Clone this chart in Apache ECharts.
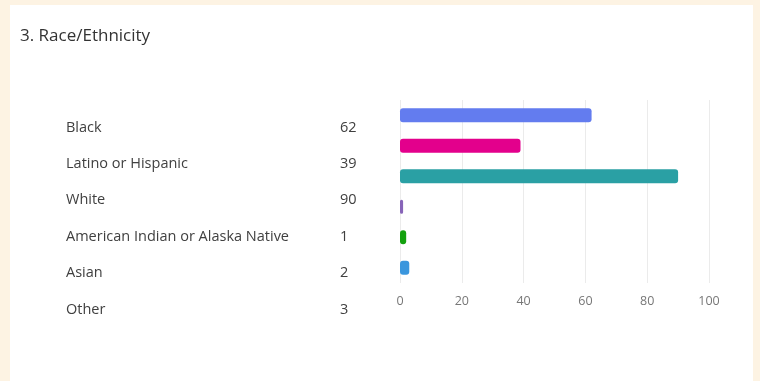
<!DOCTYPE html>
<html>
<head>
<meta charset="utf-8">
<script src="https://cdn.jsdelivr.net/npm/echarts@6/dist/echarts.min.js"></script>
<style>
  html, body { margin: 0; padding: 0; background: #fdf3e3; }
  #card { position: absolute; left: 10px; top: 5px; width: 743px; height: 376px; background: #ffffff; }
  #chart { position: absolute; left: 0; top: 0; width: 760px; height: 381px; }
</style>
</head>
<body>
<div id="card"></div>
<div id="chart"></div>
<script>
// Survey question 3: respondents by race/ethnicity
const title = '3. Race/Ethnicity';
const categories = ['Black', 'Latino or Hispanic', 'White', 'American Indian or Alaska Native', 'Asian', 'Other'];
const counts = [62, 39, 90, 1, 2, 3];
const barColors = ['#637cef', '#e3008c', '#2aa0a4', '#8764b8', '#13a10e', '#3a96dd'];
const xTicks = [0, 20, 40, 60, 80, 100];

const font = '"Open Sans", "Noto Sans", sans-serif';

// Left-hand table: option name and its count
const tableText = [];
categories.forEach(function (name, i) {
  const y = 127.5 + i * 36.4;
  tableText.push({
    type: 'text', x: 66, y: y,
    style: { text: name, font: '14.5px ' + font, fill: '#404040', textVerticalAlign: 'middle', verticalAlign: 'middle' }
  });
  tableText.push({
    type: 'text', x: 340, y: y,
    style: { text: String(counts[i]), font: '14.5px ' + font, fill: '#404040', textVerticalAlign: 'middle', verticalAlign: 'middle' }
  });
});

const chart = echarts.init(document.getElementById('chart'), null, { renderer: 'canvas' });
chart.setOption({
  backgroundColor: 'transparent',
  animation: false,
  title: {
    text: title, left: 15, top: 23,
    textStyle: { fontFamily: font, fontSize: 17, fontWeight: 'normal', color: '#333333' }
  },
  graphic: tableText,
  grid: { left: 400, right: 51, top: 100, height: 183 },
  xAxis: {
    type: 'value', min: 0, max: 100, interval: 20,
    axisLine: { show: false }, axisTick: { show: false },
    splitLine: { show: true, lineStyle: { color: '#ebebeb', width: 1 } },
    axisLabel: {
      fontFamily: font, fontSize: 12.5, color: '#777777', margin: 12,
      formatter: function (v) { return xTicks.indexOf(v) >= 0 ? String(v) : ''; }
    }
  },
  yAxis: {
    type: 'category', data: categories, inverse: true,
    axisLine: { show: false }, axisTick: { show: false }, axisLabel: { show: false }
  },
  series: [{
    type: 'bar',
    barWidth: 14,
    data: counts.map(function (v, i) {
      return { value: v, itemStyle: { color: barColors[i], borderRadius: 3 } };
    })
  }]
});
</script>
</body>
</html>
